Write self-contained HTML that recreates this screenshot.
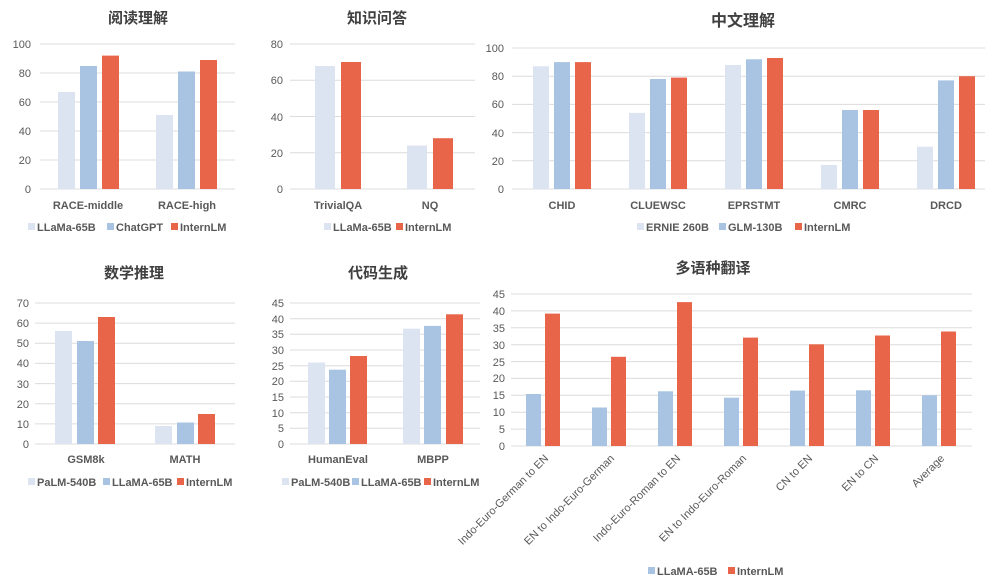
<!DOCTYPE html>
<html><head><meta charset="utf-8"><style>
body{margin:0;background:#fff}
svg{display:block}
text{font-family:"Liberation Sans","Noto Sans CJK SC",sans-serif;fill:#595959}
.t{font-size:15px;font-weight:bold;fill:#404040;text-anchor:middle}
.y{font-size:11px;text-anchor:end}
.c{font-size:11px;font-weight:bold;text-anchor:middle}
.l{font-size:11px;font-weight:bold}
.g{stroke:#dcdcdc;stroke-width:1}
.a{fill:#dce3f1}.b{fill:#a8c4e2}.r{fill:#e8654a}
</style></head><body>
<svg width="1000" height="580" viewBox="0 0 1000 580" xmlns="http://www.w3.org/2000/svg">
<!-- Chart 1 -->
<text class="t" x="138" y="23">阅读理解</text>
<g class="g"><line x1="40" x2="235" y1="44" y2="44"/><line x1="40" x2="235" y1="73" y2="73"/><line x1="40" x2="235" y1="102" y2="102"/><line x1="40" x2="235" y1="131" y2="131"/><line x1="40" x2="235" y1="160" y2="160"/><line x1="40" x2="235" y1="189" y2="189"/></g>
<text class="y" x="31" y="48">100</text><text class="y" x="31" y="77">80</text><text class="y" x="31" y="106">60</text><text class="y" x="31" y="135">40</text><text class="y" x="31" y="164">20</text><text class="y" x="31" y="193">0</text>
<rect class="a" x="58" y="92" width="17" height="97"/><rect class="b" x="80" y="66" width="17" height="123"/><rect class="r" x="102" y="55.6" width="17" height="133.4"/>
<rect class="a" x="156" y="115" width="17" height="74"/><rect class="b" x="178" y="71.5" width="17" height="117.5"/><rect class="r" x="200" y="60" width="17" height="129"/>
<text class="c" x="88" y="209">RACE-middle</text><text class="c" x="187" y="209">RACE-high</text>
<rect class="a" x="28" y="223" width="7" height="7"/><text class="l" x="37" y="231">LLaMa-65B</text>
<rect class="b" x="107" y="223" width="7" height="7"/><text class="l" x="116" y="231">ChatGPT</text>
<rect class="r" x="171" y="223" width="7" height="7"/><text class="l" x="180" y="231">InternLM</text>
<!-- Chart 2 -->
<text class="t" x="377" y="23">知识问答</text>
<g class="g"><line x1="290" x2="475" y1="44" y2="44"/><line x1="290" x2="475" y1="80.25" y2="80.25"/><line x1="290" x2="475" y1="116.5" y2="116.5"/><line x1="290" x2="475" y1="152.75" y2="152.75"/><line x1="290" x2="475" y1="189" y2="189"/></g>
<text class="y" x="283" y="48">80</text><text class="y" x="283" y="84">60</text><text class="y" x="283" y="121">40</text><text class="y" x="283" y="157">20</text><text class="y" x="283" y="193">0</text>
<rect class="a" x="315" y="66" width="20" height="123"/><rect class="r" x="341" y="62" width="20" height="127"/>
<rect class="a" x="407" y="145.5" width="20" height="43.5"/><rect class="r" x="433" y="138.2" width="20" height="50.8"/>
<text class="c" x="338" y="209">TrivialQA</text><text class="c" x="430" y="209">NQ</text>
<rect class="a" x="324" y="223" width="7" height="7"/><text class="l" x="333" y="231">LLaMa-65B</text>
<rect class="r" x="396" y="223" width="7" height="7"/><text class="l" x="405" y="231">InternLM</text>
<!-- Chart 3 -->
<text class="t" x="743" y="26" style="font-size:16px">中文理解</text>
<g class="g"><line x1="512" x2="985" y1="48" y2="48"/><line x1="512" x2="985" y1="76.2" y2="76.2"/><line x1="512" x2="985" y1="104.4" y2="104.4"/><line x1="512" x2="985" y1="132.6" y2="132.6"/><line x1="512" x2="985" y1="160.8" y2="160.8"/><line x1="512" x2="985" y1="189" y2="189"/></g>
<text class="y" x="504" y="52">100</text><text class="y" x="504" y="80">80</text><text class="y" x="504" y="108">60</text><text class="y" x="504" y="137">40</text><text class="y" x="504" y="165">20</text><text class="y" x="504" y="193">0</text>
<rect class="a" x="533" y="66.3" width="16" height="122.7"/><rect class="b" x="554" y="62.1" width="16" height="126.9"/><rect class="r" x="575" y="62.1" width="16" height="126.9"/>
<rect class="a" x="629" y="112.9" width="16" height="76.1"/><rect class="b" x="650" y="79" width="16" height="110"/><rect class="r" x="671" y="77.6" width="16" height="111.4"/>
<rect class="a" x="725" y="65" width="16" height="124"/><rect class="b" x="746" y="59.3" width="16" height="129.7"/><rect class="r" x="767" y="58" width="16" height="131"/>
<rect class="a" x="821" y="165" width="16" height="24"/><rect class="b" x="842" y="110" width="16" height="79"/><rect class="r" x="863" y="110" width="16" height="79"/>
<rect class="a" x="917" y="146.7" width="16" height="42.3"/><rect class="b" x="938" y="80.4" width="16" height="108.6"/><rect class="r" x="959" y="76.2" width="16" height="112.8"/>
<text class="c" x="562" y="209">CHID</text><text class="c" x="658" y="209">CLUEWSC</text><text class="c" x="754" y="209">EPRSTMT</text><text class="c" x="850" y="209">CMRC</text><text class="c" x="946" y="209">DRCD</text>
<rect class="a" x="637" y="223" width="7" height="7"/><text class="l" x="646" y="231">ERNIE 260B</text>
<rect class="b" x="719" y="223" width="7" height="7"/><text class="l" x="728" y="231">GLM-130B</text>
<rect class="r" x="795" y="223" width="7" height="7"/><text class="l" x="804" y="231">InternLM</text>
<!-- Chart 4 -->
<text class="t" x="134" y="278">数学推理</text>
<g class="g"><line x1="35" x2="235" y1="303" y2="303"/><line x1="35" x2="235" y1="323.1" y2="323.1"/><line x1="35" x2="235" y1="343.3" y2="343.3"/><line x1="35" x2="235" y1="363.4" y2="363.4"/><line x1="35" x2="235" y1="383.6" y2="383.6"/><line x1="35" x2="235" y1="403.7" y2="403.7"/><line x1="35" x2="235" y1="423.9" y2="423.9"/><line x1="35" x2="235" y1="444" y2="444"/></g>
<text class="y" x="29" y="307">70</text><text class="y" x="29" y="327">60</text><text class="y" x="29" y="347">50</text><text class="y" x="29" y="367">40</text><text class="y" x="29" y="388">30</text><text class="y" x="29" y="408">20</text><text class="y" x="29" y="428">10</text><text class="y" x="29" y="448">0</text>
<rect class="a" x="55" y="331" width="17" height="113"/><rect class="b" x="77" y="341" width="17" height="103"/><rect class="r" x="98" y="317" width="17" height="127"/>
<rect class="a" x="155" y="426" width="17" height="18"/><rect class="b" x="177" y="422.5" width="17" height="21.5"/><rect class="r" x="198" y="414" width="17" height="30"/>
<text class="c" x="86" y="463">GSM8k</text><text class="c" x="185" y="463">MATH</text>
<rect class="a" x="28" y="478" width="7" height="7"/><text class="l" x="37" y="486">PaLM-540B</text>
<rect class="b" x="103" y="478" width="7" height="7"/><text class="l" x="112" y="486">LLaMA-65B</text>
<rect class="r" x="177" y="478" width="7" height="7"/><text class="l" x="186" y="486">InternLM</text>
<!-- Chart 5 -->
<text class="t" x="378" y="278">代码生成</text>
<g class="g"><line x1="290" x2="480" y1="303" y2="303"/><line x1="290" x2="480" y1="318.7" y2="318.7"/><line x1="290" x2="480" y1="334.3" y2="334.3"/><line x1="290" x2="480" y1="350" y2="350"/><line x1="290" x2="480" y1="365.7" y2="365.7"/><line x1="290" x2="480" y1="381.3" y2="381.3"/><line x1="290" x2="480" y1="397" y2="397"/><line x1="290" x2="480" y1="412.7" y2="412.7"/><line x1="290" x2="480" y1="428.3" y2="428.3"/><line x1="290" x2="480" y1="444" y2="444"/></g>
<text class="y" x="284" y="307">45</text><text class="y" x="284" y="323">40</text><text class="y" x="284" y="338">35</text><text class="y" x="284" y="354">30</text><text class="y" x="284" y="370">25</text><text class="y" x="284" y="385">20</text><text class="y" x="284" y="401">15</text><text class="y" x="284" y="417">10</text><text class="y" x="284" y="432">5</text><text class="y" x="284" y="448">0</text>
<rect class="a" x="308" y="362.5" width="17" height="81.5"/><rect class="b" x="329" y="369.7" width="17" height="74.3"/><rect class="r" x="350" y="356" width="17" height="88"/>
<rect class="a" x="403" y="328.7" width="17" height="115.3"/><rect class="b" x="424" y="325.9" width="17" height="118.1"/><rect class="r" x="446" y="314.3" width="17" height="129.7"/>
<text class="c" x="338" y="463">HumanEval</text><text class="c" x="433" y="463">MBPP</text>
<rect class="a" x="282" y="478" width="7" height="7"/><text class="l" x="291" y="486">PaLM-540B</text>
<rect class="b" x="352" y="478" width="7" height="7"/><text class="l" x="361" y="486">LLaMA-65B</text>
<rect class="r" x="424" y="478" width="7" height="7"/><text class="l" x="433" y="486">InternLM</text>
<!-- Chart 6 -->
<text class="t" x="713" y="273">多语种翻译</text>
<g class="g"><line x1="511" x2="972" y1="294" y2="294"/><line x1="511" x2="972" y1="310.9" y2="310.9"/><line x1="511" x2="972" y1="327.8" y2="327.8"/><line x1="511" x2="972" y1="344.7" y2="344.7"/><line x1="511" x2="972" y1="361.6" y2="361.6"/><line x1="511" x2="972" y1="378.4" y2="378.4"/><line x1="511" x2="972" y1="395.3" y2="395.3"/><line x1="511" x2="972" y1="412.2" y2="412.2"/><line x1="511" x2="972" y1="429.1" y2="429.1"/><line x1="511" x2="972" y1="446" y2="446"/></g>
<text class="y" x="505" y="298">45</text><text class="y" x="505" y="315">40</text><text class="y" x="505" y="332">35</text><text class="y" x="505" y="349">30</text><text class="y" x="505" y="366">25</text><text class="y" x="505" y="382">20</text><text class="y" x="505" y="399">15</text><text class="y" x="505" y="416">10</text><text class="y" x="505" y="433">5</text><text class="y" x="505" y="450">0</text>
<rect class="b" x="526" y="394" width="15" height="52"/><rect class="r" x="545" y="313.6" width="15" height="132.4"/>
<rect class="b" x="592" y="407.5" width="15" height="38.5"/><rect class="r" x="611" y="356.8" width="15" height="89.2"/>
<rect class="b" x="658" y="391.3" width="15" height="54.7"/><rect class="r" x="677" y="302.1" width="15" height="143.9"/>
<rect class="b" x="724" y="397.7" width="15" height="48.3"/><rect class="r" x="743" y="337.6" width="15" height="108.4"/>
<rect class="b" x="790" y="390.6" width="15" height="55.4"/><rect class="r" x="809" y="344.3" width="15" height="101.7"/>
<rect class="b" x="856" y="390.3" width="15" height="55.7"/><rect class="r" x="875" y="335.5" width="15" height="110.5"/>
<rect class="b" x="922" y="395.3" width="15" height="50.7"/><rect class="r" x="941" y="331.5" width="15" height="114.5"/>
<g style="font-size:11px;text-anchor:end">
<text transform="translate(549,459) rotate(-45)">Indo-Euro-German to EN</text>
<text transform="translate(615,459) rotate(-45)">EN to Indo-Euro-German</text>
<text transform="translate(681,459) rotate(-45)">Indo-Euro-Roman to EN</text>
<text transform="translate(747,459) rotate(-45)">EN to Indo-Euro-Roman</text>
<text transform="translate(813,459) rotate(-45)">CN to EN</text>
<text transform="translate(879,459) rotate(-45)">EN to CN</text>
<text transform="translate(945,459) rotate(-45)">Average</text>
</g>
<rect class="b" x="648" y="567" width="7" height="7"/><text class="l" x="657" y="575">LLaMA-65B</text>
<rect class="r" x="728" y="567" width="7" height="7"/><text class="l" x="737" y="575">InternLM</text>
</svg>
</body></html>
